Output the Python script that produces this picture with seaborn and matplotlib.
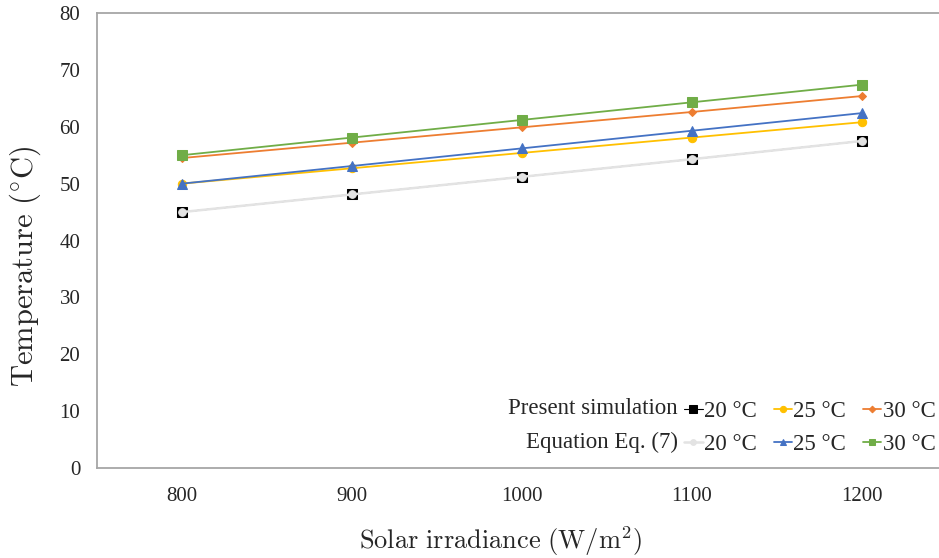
import seaborn as sns
import matplotlib.pyplot as plt
import pandas as pd

irradiance = [800, 900, 1000, 1100, 1200]
sim_20 = [45.0, 48.1, 51.2, 54.3, 57.5]
sim_25 = [50.0, 52.7, 55.4, 58.1, 60.8]
sim_30 = [54.5, 57.2, 59.9, 62.6, 65.4]
eq_20 = [45.0, 48.1, 51.2, 54.3, 57.5]
eq_25 = [50.0, 53.1, 56.2, 59.3, 62.4]
eq_30 = [55.0, 58.1, 61.2, 64.3, 67.4]
temp_labels = ['20 °C', '25 °C', '30 °C']

sns.set_style('white')
plt.rcParams['font.family'] = ['Liberation Serif', 'DejaVu Serif']
plt.rcParams['mathtext.fontset'] = 'cm'

fig = plt.figure(figsize=(9.39, 5.58), dpi=100)
# axes runs past the right edge like the cropped original
ax = fig.add_axes([97 / 939, 1 - 468 / 558, 850 / 939, 455 / 558])

# (values, colour, marker, size, line width)
series = [
    (sim_20, '#000000', 's', 7, 0.8),
    (sim_25, '#FFC000', 'o', 6, 1.3),
    (sim_30, '#ED7D31', 'D', 4.5, 1.3),
    (eq_20, '#E3E3E3', 'o', 5.5, 1.8),
    (eq_25, '#4472C4', '^', 6.5, 1.3),
    (eq_30, '#70AD47', 's', 6.5, 1.3),
]
handles = []
for vals, col, mk, ms, lw in series:
    df = pd.DataFrame({'x': irradiance, 'y': vals})
    sns.lineplot(data=df, x='x', y='y', ax=ax, color=col, marker=mk,
                 markersize=ms, markeredgecolor=col, markerfacecolor=col,
                 linewidth=lw)
    handles.append(ax.lines[-1])

ax.set_xlim(750, 1250)
ax.set_ylim(0, 80)
ax.set_xticks(irradiance)
ax.set_yticks(range(0, 81, 10))
ax.tick_params(axis='x', labelsize=15, pad=14, length=0)
ax.tick_params(axis='y', labelsize=15, pad=12, length=0)
for s in ['left', 'top', 'bottom', 'right']:
    ax.spines[s].set_color('#A6A6A6')
    ax.spines[s].set_linewidth(1.3)

ax.set_xlabel(r'$\mathrm{Solar\ irradiance\ (W/m^2)}$', fontsize=19)
ax.set_ylabel(r'$\mathrm{Temperature\ (^{\circ}C)}$', fontsize=22)
ax.xaxis.set_label_coords(0.475, -0.123)
ax.yaxis.set_label_coords(-0.063, 0.442)

# legend: two rows, row labels on the left
order = [handles[0], handles[3], handles[1], handles[4], handles[2], handles[5]]
labels = [temp_labels[0], temp_labels[0], temp_labels[1], temp_labels[1],
          temp_labels[2], temp_labels[2]]
leg = fig.legend(order, labels, ncol=3, loc='lower right',
                 bbox_to_anchor=(956 / 939, 1 - 476 / 558),
                 frameon=False, fontsize=16.5, handlelength=0.8,
                 handletextpad=0.05, columnspacing=0.75, labelspacing=0.55,
                 markerscale=0.75)
fig.text(678 / 939, 1 - 409 / 558, 'Present simulation', ha='right',
         va='center', fontsize=16.5)
fig.text(678 / 939, 1 - 442 / 558, 'Equation Eq. (7)', ha='right',
         va='center', fontsize=16.5)

fig.savefig('out.png', dpi=100)
